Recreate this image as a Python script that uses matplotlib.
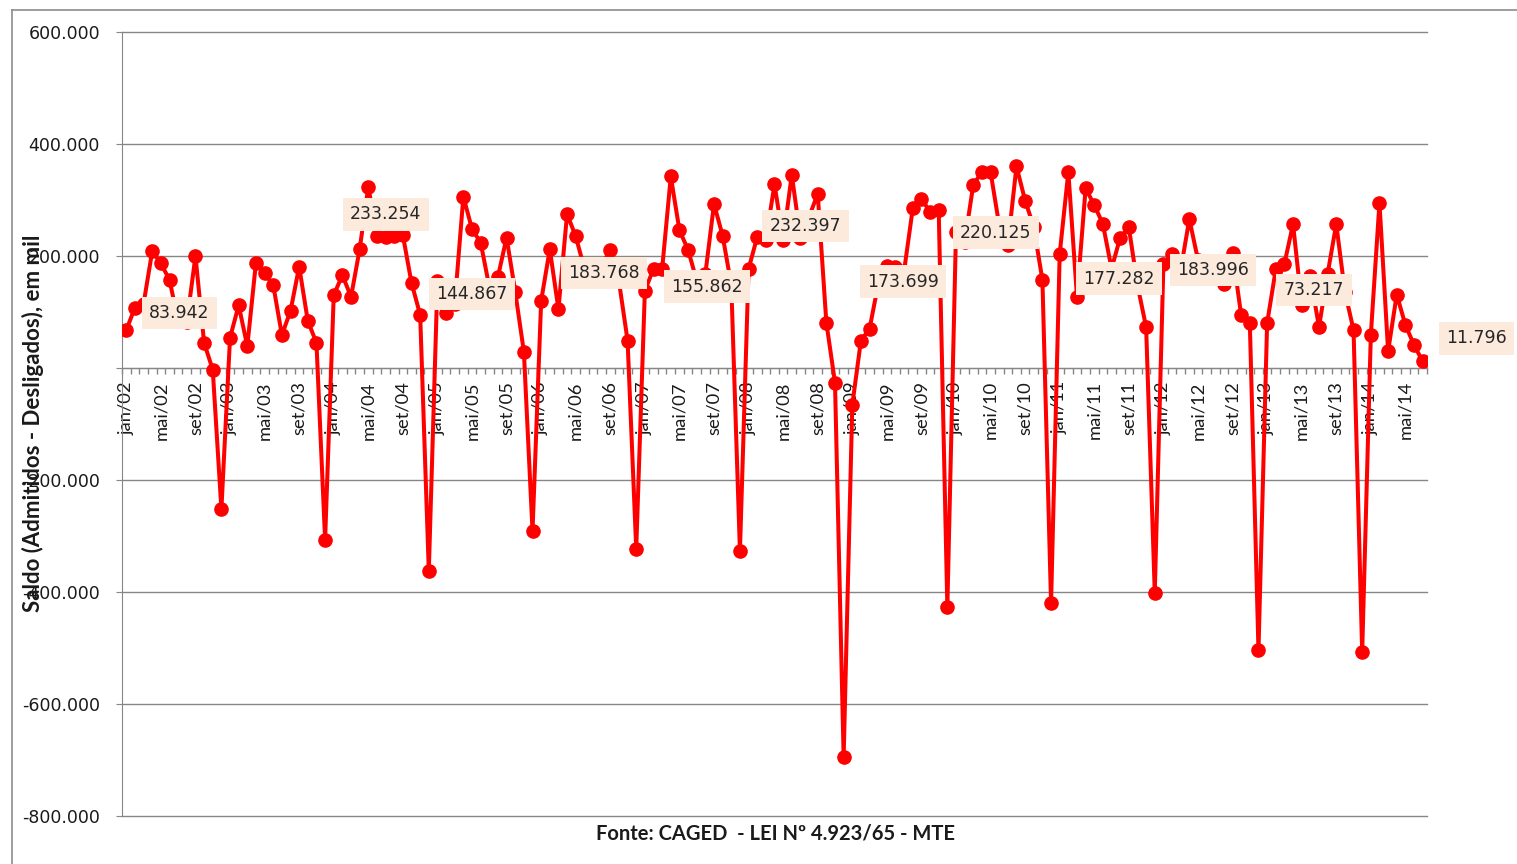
import matplotlib
matplotlib.use("Agg")
import matplotlib.pyplot as plt
from matplotlib.lines import Line2D
from matplotlib.ticker import FixedLocator, FuncFormatter
import numpy as np

# Monthly net formal job creation (admitted - dismissed), jan/2002 .. jul/2014
month_abbr = ["jan", "fev", "mar", "abr", "mai", "jun",
              "jul", "ago", "set", "out", "nov", "dez"]
years = list(range(2002, 2015))

saldo_2002 = [68000, 108000, 115000, 209000, 187000, 157000, 83942, 82000, 200000, 45000, -3000, -252000]
saldo_2003 = [54000, 112000, 39000, 188000, 169000, 148000, 59000, 102000, 181000, 84000, 45000, -307000]
saldo_2004 = [130000, 166000, 127000, 212000, 324000, 235000, 233254, 236000, 237000, 152000, 95000, -362000]
saldo_2005 = [155000, 99000, 115000, 306000, 248000, 224000, 144867, 163000, 233000, 136000, 29000, -291000]
saldo_2006 = [120000, 212000, 105000, 275000, 235000, 178000, 183768, 184000, 210000, 155000, 49000, -323000]
saldo_2007 = [138000, 177000, 177000, 342000, 246000, 211000, 155862, 168000, 293000, 236000, 148000, -327000]
saldo_2008 = [177000, 234000, 229000, 328000, 229000, 345000, 232397, 270000, 311000, 81000, -26000, -695000]
saldo_2009 = [-66000, 49000, 70000, 150000, 182000, 180000, 173699, 285000, 302000, 279000, 282000, -427000]
saldo_2010 = [243000, 225000, 327000, 350000, 350000, 255000, 220125, 360000, 299000, 252000, 157000, -420000]
saldo_2011 = [204000, 350000, 127000, 321000, 291000, 257000, 177282, 233000, 251000, 148000, 73000, -402000]
saldo_2012 = [185000, 204000, 175000, 266000, 193000, 185000, 183996, 150000, 206000, 94000, 80000, -504000]
saldo_2013 = [80000, 176000, 186000, 257000, 113000, 164000, 73217, 168000, 257000, 136000, 68000, -507000]
saldo_2014 = [59000, 295000, 30000, 131000, 77000, 41000, 11796]

saldo = (saldo_2002 + saldo_2003 + saldo_2004 + saldo_2005 + saldo_2006 +
         saldo_2007 + saldo_2008 + saldo_2009 + saldo_2010 + saldo_2011 +
         saldo_2012 + saldo_2013 + saldo_2014)
months = [f"{m}/{str(y)[2:]}" for y in years for m in month_abbr][:len(saldo)]

# July values get a data label; offsets in pixels (dx, dy) from the point
july_idx = [6, 30, 42, 54, 66, 78, 90, 102, 114, 126, 138, 150]
label_offsets = [(1, 8), (0, 23), (-17, -7), (11, -8), (10, -6), (5, 12),
                 (-1, -11), (-12, 12), (7, -10), (-2, -5), (-5, 37), (54, 23)]

y_ticks = list(range(-800000, 600001, 200000))


def br_number(v):
    return f"{int(round(v)):,}".replace(",", ".")


W, H = 1517, 864
fig = plt.figure(figsize=(W / 100, H / 100), dpi=100)
fig.patch.set_facecolor("white")

# chart frame (left and top edges fall inside the canvas)
frame_col = "#8c8c8c"
fig.add_artist(Line2D([12 / W, 12 / W], [0, 1 - 9.5 / H], transform=fig.transFigure,
                      color=frame_col, linewidth=1.2))
fig.add_artist(Line2D([12 / W, 1], [1 - 9.5 / H, 1 - 9.5 / H], transform=fig.transFigure,
                      color=frame_col, linewidth=1.2))

ax = fig.add_axes([122 / W, 1 - 816 / H, (1427 - 122) / W, (816 - 32) / H])
x = np.arange(len(saldo))

ax.plot(x, saldo, color="#FF0000", linewidth=2.9, marker="o", markersize=9.5,
        markeredgecolor="#FF0000", markerfacecolor="#FF0000", zorder=3,
        solid_joinstyle="round")

ax.set_xlim(-0.5, len(saldo) - 0.5)
ax.set_ylim(-800000, 600000)

grid_col = "#868686"
ax.set_yticks(y_ticks)
ax.yaxis.set_major_formatter(FuncFormatter(lambda v, p: "" if v == 0 else br_number(v)))
ax.yaxis.grid(True, color=grid_col, linewidth=1.0)
for gl in ax.yaxis.get_gridlines():
    gl.set_clip_on(False)
ax.set_axisbelow(True)

for s in ("top", "right"):
    ax.spines[s].set_visible(False)
ax.spines["left"].set_color(grid_col)
ax.spines["bottom"].set_color(grid_col)
ax.spines["bottom"].set_position(("data", 0))

label_pos = list(range(0, len(saldo), 4))
ax.xaxis.set_major_locator(FixedLocator(label_pos))
ax.set_xticklabels([months[i] for i in label_pos], rotation=90,
                   fontfamily="Lato", fontsize=13.2, color="#1a1a1a")
ax.xaxis.set_minor_locator(FixedLocator(np.arange(-0.5, len(saldo), 1.0)))
ax.tick_params(axis="x", which="major", length=0, pad=9.5)
ax.tick_params(axis="x", which="minor", length=4.3, color=grid_col, width=1)

ax.tick_params(axis="y", which="major", length=4.3, color=grid_col, pad=11.5,
               labelsize=12.5, labelcolor="#1a1a1a")
for t in ax.get_yticklabels():
    t.set_fontfamily("DejaVu Sans")

for i, (dx, dy) in zip(july_idx, label_offsets):
    ax.annotate(br_number(saldo[i]), (i, saldo[i]), xytext=(dx, dy),
                textcoords="offset pixels", ha="center", va="center",
                fontsize=12.5, color="#262626", fontfamily="DejaVu Sans",
                bbox=dict(boxstyle="square,pad=0.42", facecolor="#FCEADC",
                          edgecolor="none"), zorder=4)

fig.text(33 / W, 1 - 423 / H, "Saldo (Admitidos - Desligados), em mil",
         rotation=90, ha="center", va="center", fontsize=16,
         fontweight="bold", fontfamily="Lato", color="#1a1a1a")
fig.text(775 / W, 1 - 833 / H, "Fonte: CAGED  - LEI Nº 4.923/65 - MTE",
         ha="center", va="center", fontsize=14.5, fontweight="bold",
         fontfamily="Lato", color="#1a1a1a")

fig.savefig("out.png", dpi=100, facecolor="white")
